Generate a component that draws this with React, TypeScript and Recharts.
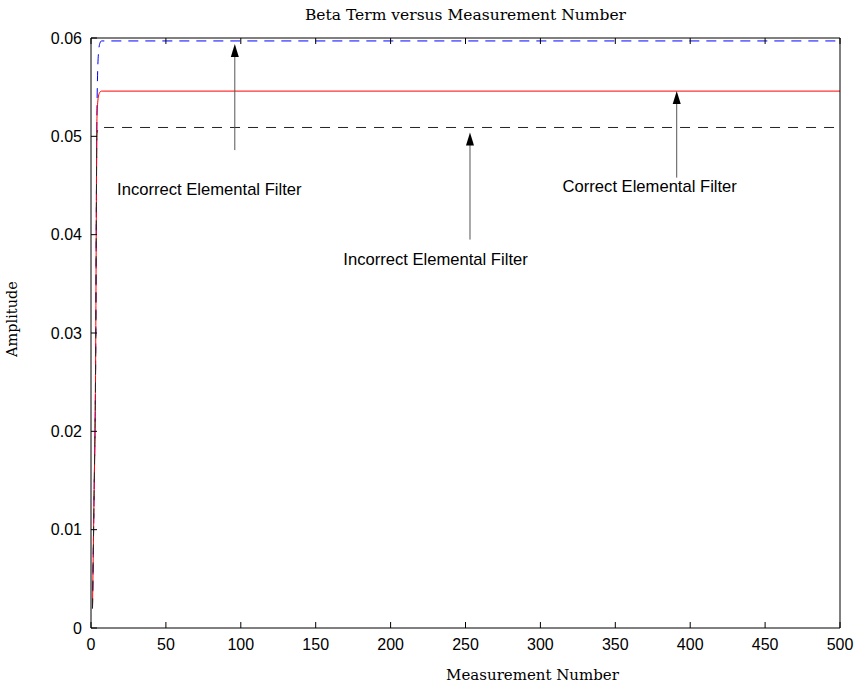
import {
  LineChart, Line, XAxis, YAxis, ReferenceLine, ReferenceDot, Label,
} from 'recharts'

// measurement numbers where the filter output was sampled (rise is over the first few)
const measurement = [1, 2, 3, 4, 5, 6, 7, 8, 500]
const correctFilter = [0.002, 0.013, 0.025, 0.052, 0.0541, 0.0545, 0.0546, 0.0546, 0.0546]
const incorrectHigh = [0.002, 0.013, 0.025, 0.053, 0.0585, 0.0595, 0.0597, 0.0597, 0.0597]
const incorrectLow = [0.002, 0.013, 0.025, 0.0503, 0.0508, 0.0509, 0.0509, 0.0509, 0.0509]

const xTicks = [0, 50, 100, 150, 200, 250, 300, 350, 400, 450, 500]
const yTicks = [0, 0.01, 0.02, 0.03, 0.04, 0.05, 0.06]

// annotation arrows: x, tail, tip (data units) and the label under each
const arrows = [
  { x: 96, from: 0.0486, to: 0.0594, text: 'Incorrect Elemental Filter', tx: 79, ty: 0.0445 },
  { x: 253, from: 0.0395, to: 0.0504, text: 'Incorrect Elemental Filter', tx: 230, ty: 0.0374 },
  { x: 391, from: 0.0458, to: 0.0546, text: 'Correct Elemental Filter', tx: 373, ty: 0.04475 },
]

const data = measurement.map((m, i) => ({
  m,
  correct: correctFilter[i],
  high: incorrectHigh[i],
  low: incorrectLow[i],
}))

const sans = 'Liberation Sans, Arial, sans-serif'
const serif = 'DejaVu Serif, Liberation Serif, serif'
const TICK = 6
const XM = 11
const YM = 9

// MATLAB style: tick marks point into the plot box
function BottomTick(props: any) {
  const { x, y, payload } = props
  const axisY = y - XM
  return (
    <g>
      <line x1={x} x2={x} y1={axisY} y2={axisY - TICK} stroke="#000" />
      <text x={x} y={y} dy="0.71em" textAnchor="middle" fontFamily={sans} fontSize={16} fill="#000">
        {payload.value}
      </text>
    </g>
  )
}

function LeftTick(props: any) {
  const { x, y, payload } = props
  const axisX = x + YM
  return (
    <g>
      <line x1={axisX} x2={axisX + TICK} y1={y} y2={y} stroke="#000" />
      <text x={x} y={y} dy="0.355em" textAnchor="end" fontFamily={sans} fontSize={16} fill="#000">
        {payload.value === 0 ? '0' : payload.value.toFixed(2)}
      </text>
    </g>
  )
}

function TopTick(props: any) {
  const { x, y } = props
  return <line x1={x} x2={x} y1={y} y2={y + TICK} stroke="#000" />
}

function RightTick(props: any) {
  const { x, y } = props
  return <line x1={x} x2={x - TICK} y1={y} y2={y} stroke="#000" />
}

function ArrowHead(props: any) {
  const { cx, cy } = props
  return <path d={`M${cx},${cy} L${cx - 4},${cy + 13} L${cx + 4},${cy + 13} Z`} fill="#000" />
}

function TextMark(text: string) {
  return (props: any) => (
    <text x={props.cx} y={props.cy} textAnchor="middle" dominantBaseline="middle"
      fontFamily={sans} fontSize={16.6} fill="#000">{text}</text>
  )
}

export default function App() {
  return (
    <div style={{ position: 'absolute', left: 0, top: 0, width: 856, height: 690, background: '#fff' }}>
      <LineChart width={856} height={690} data={data}
        margin={{ top: 37, right: 15, left: 0, bottom: 0 }}>
        <XAxis xAxisId="top" orientation="top" dataKey="m" type="number" domain={[0, 500]}
          ticks={xTicks} height={1} tick={<TopTick />} tickLine={false} tickSize={0} tickMargin={0}
          axisLine={{ stroke: '#000' }}>
          <Label value="Beta Term versus Measurement Number" position="top" offset={17}
            style={{ fontFamily: serif, fontSize: 15.5, fill: '#000' }} />
        </XAxis>
        <XAxis dataKey="m" type="number" domain={[0, 500]} ticks={xTicks} height={62}
          tickLine={false} tickSize={0} tickMargin={XM} axisLine={{ stroke: '#000' }}
          tick={<BottomTick />}>
          <Label value="Measurement Number" position="insideBottom" offset={10} dx={67}
            style={{ fontFamily: serif, fontSize: 15, fill: '#000' }} />
        </XAxis>
        <YAxis domain={[0, 0.06]} ticks={yTicks} width={91} tickLine={false} tickSize={0}
          tickMargin={YM} axisLine={{ stroke: '#000' }} tick={<LeftTick />}>
          <Label value="Amplitude" angle={-90} position="insideLeft" offset={12} dy={-14}
            style={{ fontFamily: serif, fontSize: 14.5, fill: '#000', textAnchor: 'middle' }} />
        </YAxis>
        <YAxis yAxisId="right" orientation="right" domain={[0, 0.06]} ticks={yTicks} width={1}
          tickLine={false} tickSize={0} tickMargin={0} axisLine={{ stroke: '#000' }}
          tick={<RightTick />} />

        <Line type="monotone" dataKey="high" stroke="#0000ff" strokeWidth={1}
          strokeDasharray="10 7" dot={false} isAnimationActive={false} />
        <Line type="monotone" dataKey="correct" stroke="#ff0000" strokeWidth={1}
          dot={false} isAnimationActive={false} />
        <Line type="monotone" dataKey="low" stroke="#222" strokeWidth={1}
          strokeDasharray="10 8" dot={false} isAnimationActive={false} />

        {arrows.map((a, i) => (
          <ReferenceLine key={'s' + i} segment={[{ x: a.x, y: a.from }, { x: a.x, y: a.to - 0.001 }]}
            stroke="#555" strokeWidth={1} />
        ))}
        {arrows.map((a, i) => (
          <ReferenceDot key={'h' + i} x={a.x} y={a.to} shape={ArrowHead} />
        ))}
        {arrows.map((a, i) => (
          <ReferenceDot key={'t' + i} x={a.tx} y={a.ty} shape={TextMark(a.text)} />
        ))}
      </LineChart>
    </div>
  )
}
